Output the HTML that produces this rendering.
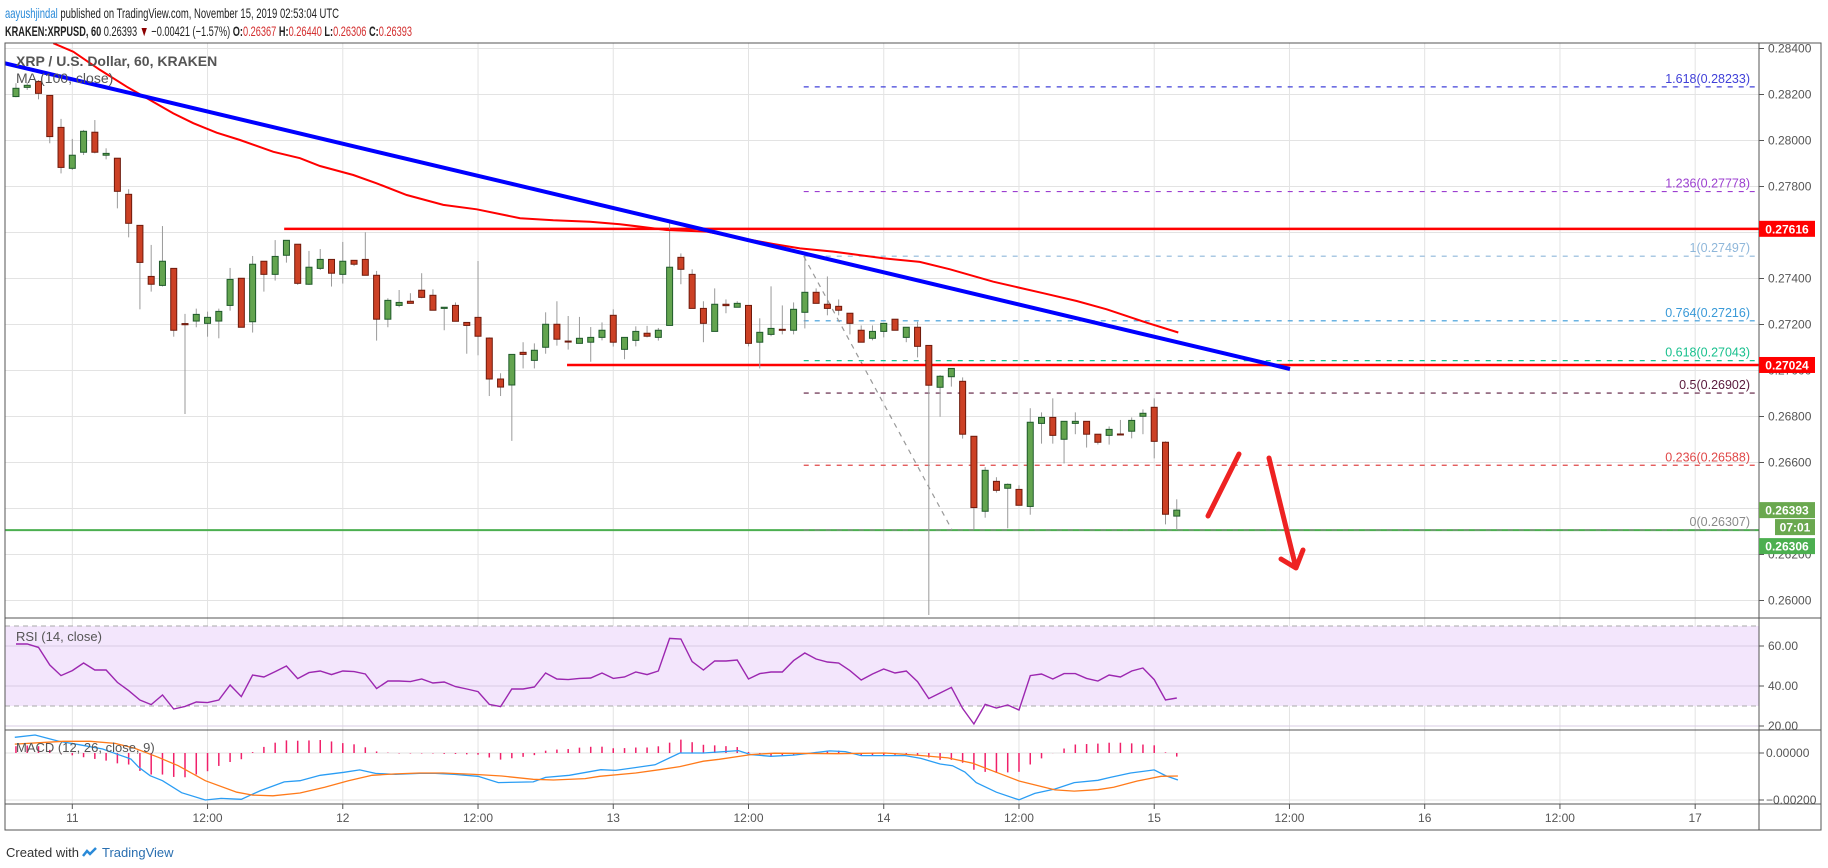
<!DOCTYPE html>
<html><head><meta charset="utf-8"><style>
html,body{margin:0;padding:0;background:#fff;}
svg{display:block;font-family:"Liberation Sans",sans-serif;}
</style></head><body>
<svg id="chart" width="1828" height="868" viewBox="0 0 1828 868" xmlns="http://www.w3.org/2000/svg">
<defs>
<clipPath id="cpMain"><rect x="5" y="43" width="1754" height="575"/></clipPath>
<clipPath id="cpRsi"><rect x="5" y="618" width="1754" height="112"/></clipPath>
<clipPath id="cpMacd"><rect x="5" y="730" width="1754" height="74"/></clipPath>
</defs>
<text x="5" y="18" font-size="14" fill="#222" textLength="334" lengthAdjust="spacingAndGlyphs"><tspan fill="#2a8ad8">aayushjindal</tspan> published on TradingView.com, November 15, 2019 02:53:04 UTC</text>
<text x="5" y="36" font-size="14" fill="#222" textLength="407" lengthAdjust="spacingAndGlyphs"><tspan font-weight="bold">KRAKEN:XRPUSD, 60</tspan> 0.26393 <tspan fill="#8b0000">▼</tspan> −0.00421 (−1.57%) <tspan font-weight="bold">O:</tspan><tspan fill="#d32f2f">0.26367</tspan> <tspan font-weight="bold">H:</tspan><tspan fill="#d32f2f">0.26440</tspan> <tspan font-weight="bold">L:</tspan><tspan fill="#d32f2f">0.26306</tspan> <tspan font-weight="bold">C:</tspan><tspan fill="#d32f2f">0.26393</tspan></text>
<g id="grid"></g>
<rect x="5" y="626" width="1754" height="80" fill="#f3e6fc"/>
<g id="rsiGrid"></g>
<g id="main" clip-path="url(#cpMain)"></g>
<g id="rsi" clip-path="url(#cpRsi)"></g>
<g id="macd" clip-path="url(#cpMacd)"></g>
<g id="frame">
<rect x="5" y="43" width="1816" height="787" fill="none" stroke="#555" stroke-width="1"/>
<line x1="1759" y1="43" x2="1759" y2="830" stroke="#555"/>
<line x1="5" y1="618" x2="1821" y2="618" stroke="#555"/>
<line x1="5" y1="730" x2="1821" y2="730" stroke="#555"/>
<line x1="5" y1="804" x2="1821" y2="804" stroke="#555"/>
</g>
<g id="axes"></g>
<text x="16" y="66" font-size="14" font-weight="bold" fill="#555">XRP / U.S. Dollar, 60, KRAKEN</text>
<text x="16" y="83" font-size="14" fill="#555">MA (100, close)</text>
<text x="16" y="641" font-size="13" fill="#555">RSI (14, close)</text>
<text x="16" y="752" font-size="13" fill="#555">MACD (12, 26, close, 9)</text>
<g>
<text x="6" y="857" font-size="13" fill="#333">Created with</text>
<g><path d="M83 856 l4 -5 l3 3 l6 -6" stroke="#2a8ad8" stroke-width="2.5" fill="none"/><text x="102" y="857" font-size="13" fill="#2a6fb0">TradingView</text></g>
</g>
</svg>
<script>
const NS="http://www.w3.org/2000/svg";
const opens=[.28191,.28231,.28257,.28196,.28057,.27879,.27949,.28036,.27936,.27923,
.27766,.27631,.27409,.27370,.27444,.27204,.27215,.27205,.27215,.27283,
.27401,.27212,.27475,.27418,.27501,.27549,.27375,.27444,.27483,.27418,
.27479,.27483,.27414,.27223,.27283,.27301,.27349,.27327,.27270,.27283,
.27209,.27231,.27141,.26963,.26937,.27079,.27044,.27101,.27201,.27128,
.27118,.27123,.27144,.27240,.27092,.27131,.27162,.27144,.27196,.27492,
.27418,.27270,.27170,.27288,.27275,.27283,.27123,.27157,.27179,.27175,
.27253,.27340,.27288,.27279,.27249,.27175,.27140,.27170,.27223,.27144,
.27188,.27109,.26927,.26973,.26953,.26714,.26388,.26518,.26488,.26483,
.26409,.26770,.26796,.26701,.26770,.26779,.26723,.26718,.26724,.26736,
.26801,.26840,.26688,.26367];
const highs=[.28249,.28251,.28263,.28196,.28094,.28007,.28046,.28089,.27966,.27923,
.27788,.27631,.27546,.27628,.27444,.27246,.27269,.27256,.27269,.27446,
.27401,.27498,.27475,.27567,.27566,.27549,.27520,.27528,.27483,.27559,
.27479,.27601,.27433,.27314,.27350,.27336,.27423,.27353,.27275,.27296,
.27209,.27476,.27144,.26988,.27070,.27123,.27118,.27253,.27301,.27237,
.27233,.27189,.27209,.27266,.27144,.27192,.27194,.27185,.27644,.27509,
.27440,.27301,.27357,.27309,.27301,.27283,.27227,.27366,.27283,.27296,
.27505,.27357,.27409,.27309,.27249,.27196,.27196,.27205,.27223,.27188,
.27212,.27109,.26980,.27009,.26970,.26714,.26580,.26536,.26509,.26501,
.26836,.26818,.26879,.26779,.26818,.26779,.26723,.26757,.26785,.26796,
.26831,.26879,.26692,.26440];
const lows=[.28188,.28220,.28179,.27988,.27857,.27872,.27937,.27944,.27918,.27705,
.27579,.27266,.27343,.27365,.27147,.26811,.27188,.27147,.27140,.27260,
.27188,.27165,.27343,.27391,.27469,.27372,.27372,.27437,.27365,.27378,
.27454,.27414,.27130,.27188,.27275,.27292,.27314,.27262,.27175,.27214,
.27073,.27066,.26889,.26889,.26694,.27009,.27009,.27073,.27108,.27091,
.27118,.27038,.27131,.27104,.27049,.27105,.27144,.27130,.27196,.27375,
.27270,.27123,.27170,.27249,.27275,.27105,.27009,.27149,.27157,.27157,
.27183,.27292,.27240,.27240,.27157,.27123,.27131,.27144,.27175,.27123,
.27057,.25937,.26799,.26930,.26704,.26309,.26360,.26469,.26314,.26414,
.26373,.26682,.26682,.26596,.26723,.26665,.26678,.26678,.26721,.26705,
.26723,.26618,.26331,.26306];
const closes=[.28227,.28240,.28205,.28017,.27883,.27936,.28040,.27949,.27944,.27779,
.27640,.27470,.27375,.27475,.27175,.27199,.27244,.27231,.27257,.27396,
.27188,.27462,.27418,.27496,.27566,.27379,.27449,.27483,.27423,.27475,
.27462,.27414,.27223,.27305,.27296,.27292,.27318,.27262,.27275,.27214,
.27196,.27149,.26963,.26928,.27070,.27070,.27088,.27201,.27136,.27125,
.27140,.27144,.27175,.27123,.27144,.27170,.27149,.27175,.27449,.27440,
.27270,.27205,.27288,.27282,.27292,.27118,.27166,.27183,.27175,.27266,
.27340,.27292,.27270,.27262,.27205,.27123,.27170,.27205,.27175,.27188,
.27105,.26936,.26975,.27009,.26723,.26404,.26566,.26479,.26505,.26414,
.26775,.26796,.26718,.26779,.26779,.26723,.26688,.26744,.26723,.26783,
.26814,.26692,.26375,.26393];
const rsiValues=[61,61,59.3,50.5,45.2,47.7,51.5,48,48,41.8,
37.7,33,30.7,35.5,28.5,29.8,32,31.7,33,40.5,
34.7,45.5,44.5,47.2,50,43.7,46.7,47.5,45.7,47.5,
47.2,46,38.7,42.5,42.5,42.2,43.5,41.5,42,39.7,
38.5,37.2,30.8,29.7,38.5,38.5,39.5,46.5,43.5,43.2,
43.8,44,46.5,43.8,44.5,47,45.7,47.5,63.8,63.5,
52.2,48,52.5,52.5,53,43.5,46.2,47,47,52.7,
56.5,53.5,52,51.5,47.7,43,46,48.5,46.5,47.5,
42.2,33.7,36.5,39.3,28.8,21,30.8,29,30.5,28,
45.2,46,43.5,46.2,46.2,43.8,42.5,45.5,44.5,47.5,
49,43.2,33,34];
const maHours=[-1.69,0.09,2.46,4.83,6.89,8.96,10.74,12.81,14.88,17.84,20.2,21.98,24.93,27.0,29.67,32.92,35.88,39.73,42.68,45.94,48.6,52.74,56.29,58.65,62.2,64.57,67.53,69.3,71.96,75.2,77.88,81.72,86.16,89.12,91.78,95.33,98.14];
const maValues=[.28423,.28386,.28307,.28234,.28176,.28118,.28075,.28034,.28002,.27951,.27923,.27889,.27850,.27814,.27763,.27720,.27701,.27662,.27653,.27647,.27636,.27611,.27604,.27582,.27550,.27531,.27517,.27505,.27488,.27472,.27440,.27386,.27336,.27302,.27266,.27208,.27165];
const macdHours=[-5.1,-3.3,-1.2,0.6,2.7,4.1,5.2,5.9,6.9,8.0,9.7,11.8,13.2,15.0,16.7,18.8,20.2,22.0,24.1,25.5,26.9,28.7,30.8,32.2,33.9,36.0,37.8,40.9,42.0,44.1,46.9,48.2,51.7,53.9,56.0,59.1,60.2,62.0,64.0,67.2,68.6,70.0,73.9,75.3,77.0,78.1,79.2,80.2,82.0,84.0,85.4,87.2,88.9,91.0,92.1,93.9,96.0,97.0,98.1];
const macdValues=[0.667,0.766,0.496,0.355,0.170,-0.071,-0.255,-0.610,-0.965,-1.177,-1.688,-2.0,-1.93,-1.97,-1.60,-1.23,-1.18,-0.95,-0.82,-0.72,-0.87,-0.91,-0.87,-0.87,-0.91,-0.99,-1.26,-1.23,-1.04,-0.95,-0.71,-0.74,-0.50,0,0,0.10,-0.07,-0.14,-0.09,0.09,0.06,-0.11,-0.11,-0.23,-0.47,-0.54,-0.81,-1.26,-1.67,-1.99,-1.72,-1.53,-1.26,-1.16,-1.04,-0.85,-0.72,-0.96,-1.15];
const signalHours=[-5.1,-2.9,-0.8,1.6,3.8,5.5,7.6,9.4,11.8,14.6,16.0,17.8,20.2,22.4,24.5,26.6,28.7,30.8,32.9,35.7,38.1,40.9,42.7,45.5,46.8,50.0,52.1,53.9,56.0,57.4,60.2,62.3,67.9,72.1,74.9,77.7,79.9,82.0,84.0,87.2,88.9,91.0,92.4,94.5,96.6,98.1];
const signalValues=[0.38,0.44,0.50,0.50,0.41,0.21,-0.18,-0.54,-1.18,-1.67,-1.79,-1.82,-1.70,-1.46,-1.18,-0.95,-0.89,-0.85,-0.85,-0.91,-0.98,-1.12,-1.15,-1.09,-0.99,-0.85,-0.71,-0.58,-0.35,-0.27,-0.07,-0.01,-0.03,0,-0.09,-0.21,-0.44,-0.82,-1.19,-1.57,-1.62,-1.56,-1.46,-1.19,-0.99,-0.98];
const priceTicks=[0.284,0.282,0.280,0.278,0.276,0.274,0.272,0.270,0.268,0.266,0.264,0.262,0.260];
const timeLabels=["11","12:00","12","12:00","13","12:00","14","12:00","15","12:00","16","12:00","17"];
const fibRatios=["1.618","1.236","1","0.764","0.618","0.5","0.236","0"];
const fibPrices=[0.28233,0.27778,0.27497,0.27216,0.27043,0.26902,0.26588,0.26307];
const fibColors=["#4040d8","#9c3fd0","#8fb7da","#3a9ad8","#19c08e","#5a1a3c","#e04848","#8a8a8a"];
const hLinePrices=[0.27616,0.27024];
const hLineStartHours=[18.8,43.9];
const supportPrice=0.26306;
const trendHours=[-5.97,108.05];
const trendPrices=[0.283355,0.270065];
const fibTrendHours=[64.9,78.06];
const fibTrendPrices=[0.27497,0.26307];
const firstHour=-5;

const X=h=>72.3+11.27*h;
const Y=p=>48.5+(0.284-p)*23000;
const RY=v=>646+(60-v)*2;
const MY=v=>753-v*23.5;
const interp=(hs,vs,h)=>{if(h<=hs[0])return vs[0];for(let i=1;i<hs.length;i++){if(h<=hs[i]){const t=(h-hs[i-1])/(hs[i]-hs[i-1]);return vs[i-1]+t*(vs[i]-vs[i-1]);}}return vs[vs.length-1];};
function mk(tag,attrs,parent){const e=document.createElementNS(NS,tag);for(const k in attrs)e.setAttribute(k,attrs[k]);parent.appendChild(e);return e;}

const grid=document.getElementById('grid'),rsiG=document.getElementById('rsiGrid'),main=document.getElementById('main'),rsi=document.getElementById('rsi'),macd=document.getElementById('macd'),axes=document.getElementById('axes');

// grid & axes
priceTicks.forEach(p=>{
  const gl=mk('line',{x1:5,x2:1759,y1:Y(p),y2:Y(p),stroke:'#e3e3e3'},grid);
  
  
  mk('line',{x1:1759,x2:1764,y1:Y(p),y2:Y(p),stroke:'#555'},axes);
  const t=mk('text',{x:1768,y:Y(p)+4,'font-size':12,fill:'#555'},axes);
  t.textContent=p.toFixed(5);
  
  
});
timeLabels.forEach((lab,i)=>{
  const x=X(i*12);
  const gl=mk('line',{x1:x,x2:x,y1:43,y2:804,stroke:'#e3e3e3'},grid);
  
  
  mk('line',{x1:x,x2:x,y1:804,y2:809,stroke:'#555'},axes);
  const t=mk('text',{x:x,y:822,'font-size':12,fill:'#555','text-anchor':'middle'},axes);
  t.textContent=lab;
  
  
});
[60,40,20].forEach(v=>{
  mk('line',{x1:5,x2:1759,y1:RY(v),y2:RY(v),stroke:'#d8cce4'},rsiG);
  mk('line',{x1:1759,x2:1764,y1:RY(v),y2:RY(v),stroke:'#555'},axes);
  const t=mk('text',{x:1768,y:RY(v)+4,'font-size':12,fill:'#555'},axes);
  t.textContent=v.toFixed(2);
  
  
});
[70,30].forEach(v=>mk('line',{x1:5,x2:1759,y1:RY(v),y2:RY(v),stroke:'#aaa','stroke-dasharray':'5 4'},rsiG));
[0,-2].forEach(v=>{
  mk('line',{x1:5,x2:1759,y1:MY(v),y2:MY(v),stroke:'#e3e3e3'},grid);
  mk('line',{x1:1759,x2:1764,y1:MY(v),y2:MY(v),stroke:'#555'},axes);
  const t=mk('text',{x:1766,y:MY(v)+4,'font-size':12,fill:'#555'},axes);
  t.textContent=v===0?'0.00000':'\u22120.00200';
  
  
});

// support line (green)
const sl=mk('line',{x1:5,x2:1759,y1:Y(supportPrice),y2:Y(supportPrice),stroke:'#4caf50','stroke-width':2},main);



// fib levels
fibPrices.forEach((p,i)=>{
  const y=Y(p);
  const l=mk('line',{x1:X(64.9),x2:1755,y1:y,y2:y,stroke:fibColors[i],'stroke-width':1.2,'stroke-dasharray':'5 6'},main);
  
  
  const t=mk('text',{x:1750,y:y-4,'font-size':12.5,fill:fibColors[i],'text-anchor':'end'},main);
  t.textContent=fibRatios[i]+'('+p.toFixed(5)+')';
  
  
});
const fd=mk('line',{x1:X(fibTrendHours[0]),y1:Y(fibTrendPrices[0]),x2:X(fibTrendHours[1]),y2:Y(fibTrendPrices[1]),stroke:'#999','stroke-width':1.2,'stroke-dasharray':'5 5'},main);



// horizontal resistance lines
hLinePrices.forEach((p,i)=>{
  const l=mk('line',{x1:X(hLineStartHours[i]),x2:1759,y1:Y(p),y2:Y(p),stroke:'#ff0000','stroke-width':2.5},main);
  
  
});

// candles
for(let i=0;i<opens.length;i++){
  const h=firstHour+i,x=X(h),up=closes[i]>=opens[i];
  const g=mk('g',{},main);
  
  
  mk('line',{x1:x,x2:x,y1:Y(highs[i]),y2:Y(lows[i]),stroke:'#9a9a9a','stroke-width':1},g);
  const top=Y(Math.max(opens[i],closes[i])),bot=Y(Math.min(opens[i],closes[i]));
  mk('rect',{x:x-3,y:top,width:6,height:Math.max(1,bot-top),fill:up?'#63a44f':'#cc4125',stroke:up?'#1f5a2a':'#6e1a0c','stroke-width':1},g);
}

// MA line
const maPath=maHours.map((h,i)=>(i?'L':'M')+X(h).toFixed(1)+' '+Y(maValues[i]).toFixed(1)).join(' ');
const ma=mk('path',{d:maPath,stroke:'#ff0000','stroke-width':2,fill:'none'},main);



// trend line
const tl=mk('line',{x1:X(trendHours[0]),y1:Y(trendPrices[0]),x2:X(trendHours[1]),y2:Y(trendPrices[1]),stroke:'#0000ff','stroke-width':4},main);



// arrows
const a1=mk('path',{d:'M1208 516 L1239 454',stroke:'#ee2222','stroke-width':5,'stroke-linecap':'round',fill:'none'},main);


const a2=mk('path',{d:'M1269 458 L1296 568 M1281 559 L1296 568 L1303 550',stroke:'#ee2222','stroke-width':5,'stroke-linecap':'round','stroke-linejoin':'round',fill:'none'},main);



// RSI
const rp=rsiValues.map((v,i)=>(i?'L':'M')+X(firstHour+i).toFixed(1)+' '+RY(v).toFixed(1)).join(' ');
const rl=mk('path',{d:rp,stroke:'#9c27b0','stroke-width':1.4,fill:'none'},rsi);



// MACD histogram
for(let i=0;i<opens.length;i++){
  const h=firstHour+i;
  const d=interp(macdHours,macdValues,h)-interp(signalHours,signalValues,h);
  const b=mk('line',{x1:X(h),x2:X(h),y1:MY(0),y2:MY(d),stroke:'#f0206a','stroke-width':1.5},macd);
  
  
}
const mp=macdHours.map((h,i)=>(i?'L':'M')+X(h).toFixed(1)+' '+MY(macdValues[i]).toFixed(1)).join(' ');
const ml=mk('path',{d:mp,stroke:'#2a9df4','stroke-width':1.3,fill:'none'},macd);


const sp=signalHours.map((h,i)=>(i?'L':'M')+X(h).toFixed(1)+' '+MY(signalValues[i]).toFixed(1)).join(' ');
const sgl=mk('path',{d:sp,stroke:'#ff7a1a','stroke-width':1.3,fill:'none'},macd);



// price boxes
function box(y,w,x0,col,txt,name){
  const g=mk('g',{},axes);
  
  
  mk('rect',{x:x0,y:y-8,width:w,height:16,fill:col},g);
  const t=mk('text',{x:x0+w/2,y:y+4.5,'font-size':12,'font-weight':'bold',fill:'#fff','text-anchor':'middle'},g);
  t.textContent=txt;
}
box(Y(0.27616),56,1759,'#ff0000','0.27616','resistance-price-label');
box(Y(0.27024),56,1759,'#ff0000','0.27024','resistance-price-label');
box(Y(closes[closes.length-1]),56,1759,'#6aa84f','0.26393','last-price-label');
box(Y(closes[closes.length-1])+17,40,1775,'#6aa84f','07:01','bar-countdown-label');
box(Y(closes[closes.length-1])+36,56,1759,'#4caf50','0.26306','support-price-label');
</script>
</body></html>
